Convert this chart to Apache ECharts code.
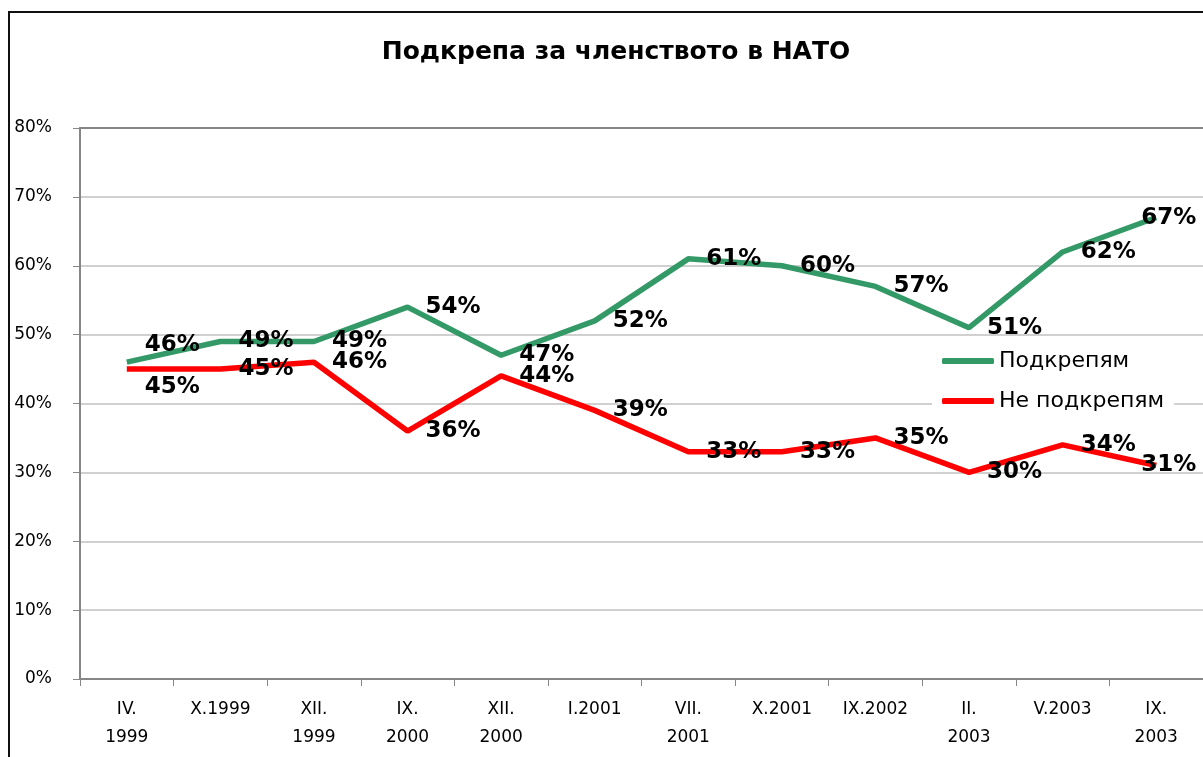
<!DOCTYPE html>
<html>
<head>
<meta charset="utf-8">
<script src="https://cdn.jsdelivr.net/npm/echarts@6/dist/echarts.min.js"></script>
<style>
  html, body { margin: 0; padding: 0; background: #fff; }
  #main { width: 1203px; height: 757px; }
</style>
</head>
<body>
<div id="main"></div>
<script>
var categories = ['IV.\n1999', 'X.1999', 'XII.\n1999', 'IX.\n2000', 'XII.\n2000', 'I.2001',
	'VII.\n2001', 'X.2001', 'IX.2002', 'II.\n2003', 'V.2003', 'IX.\n2003'];
var support = [46, 49, 49, 54, 47, 52, 61, 60, 57, 51, 62, 67];
var against = [45, 45, 46, 36, 44, 39, 33, 33, 35, 30, 34, 31];
var yTicks = [0, 80, 10]; // min, max, step

var chart = echarts.init(document.getElementById('main'));
var font = 'DejaVu Sans';

// labels sit to the right of each point; first and last ones are nudged like in the original
function points(values, firstOffset) {
	return values.map(function (v, i) {
		var item = { value: v };
		if (i === 0) item.label = { offset: [0, firstOffset] };
		if (i === values.length - 1) item.label = { offset: [-33, 0] };
		return item;
	});
}

function lineSeries(name, color, values, firstOffset) {
	return {
		name: name,
		type: 'line',
		data: points(values, firstOffset),
		symbol: 'circle',
		symbolSize: 0.1,
		showSymbol: true,
		itemStyle: { color: color },
		lineStyle: { color: color, width: 5.5 },
		label: {
			show: true,
			position: 'right',
			distance: 18,
			formatter: '{c}%',
			color: '#000',
			fontFamily: font,
			fontWeight: 'bold',
			fontSize: 23
		},
		emphasis: { disabled: true },
		animation: false
	};
}

var option = {
	backgroundColor: '#fff',
	title: {
		text: 'Подкрепа за членството в НАТО',
		left: 611,
		top: 35,
		textAlign: 'center',
		textStyle: { fontFamily: font, fontWeight: 'bold', fontSize: 25, color: '#000' }
	},
	graphic: [{
		type: 'rect',
		shape: { x: 9, y: 12, width: 1400, height: 900 },
		style: { fill: null, stroke: '#111', lineWidth: 2 },
		silent: true
	}],
	legend: {
		orient: 'vertical',
		left: 932,
		top: 339,
		padding: [10, 10, 10, 10],
		backgroundColor: '#fff',
		itemWidth: 52,
		itemHeight: 6,
		itemGap: 16,
		icon: 'roundRect',
		textStyle: { fontFamily: font, fontSize: 22, color: '#000', lineHeight: 24, padding: [0, 0, 0, 0] },
		data: ['Подкрепям', 'Не подкрепям']
	},
	grid: { left: 80, top: 128, width: 1130, height: 551 },
	xAxis: [{
		type: 'category',
		data: categories,
		boundaryGap: true,
		axisLine: { lineStyle: { color: '#868686', width: 2 } },
		axisTick: { show: true, length: 7, lineStyle: { color: '#868686' } },
		axisLabel: {
			margin: 17,
			fontFamily: font,
			fontSize: 17,
			lineHeight: 28,
			color: '#000',
			interval: 0
		}
	}, {
		type: 'category',
		data: categories,
		position: 'top',
		axisLine: { show: true, lineStyle: { color: '#868686', width: 2 } },
		axisTick: { show: false },
		axisLabel: { show: false }
	}],
	yAxis: {
		type: 'value',
		min: yTicks[0],
		max: yTicks[1],
		interval: yTicks[2],
		axisLine: { show: true, lineStyle: { color: '#868686', width: 2 } },
		axisTick: { show: true, length: 7, lineStyle: { color: '#868686' } },
		axisLabel: {
			formatter: '{value}%',
			margin: 28,
			fontFamily: font,
			fontSize: 17,
			color: '#000'
		},
		splitLine: { show: true, lineStyle: { color: '#c0c0c0', width: 1.5 } }
	},
	series: [
		lineSeries('Подкрепям', '#339966', support, -17),
		lineSeries('Не подкрепям', '#ff0000', against, 18)
	]
};

chart.setOption(option);
</script>
</body>
</html>
